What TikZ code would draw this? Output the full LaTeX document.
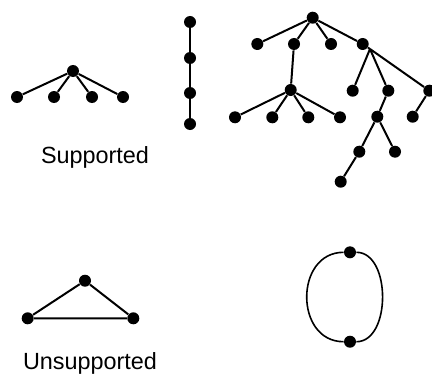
\documentclass[tikz,border=0pt]{standalone}
\usepackage{fontspec}
\setmainfont{Liberation Sans}

\begin{document}
\begin{tikzpicture}[x=0.5pt,y=-0.5pt,
  dot/.style={circle,fill=black,inner sep=0pt,minimum size=6pt},
  edge/.style={line width=1pt},
  lbl/.style={font=\fontsize{11.7}{14}\selectfont}]
  \useasboundingbox (0,0) rectangle (432,374);
  % Supported: star
  \node[dot]    (S0)        at (73,71) {};
  \node[dot]    (S1)        at (17,97) {};
  \node[dot]    (S2)        at (54,97) {};
  \node[dot]    (S3)        at (92,97) {};
  \node[dot]    (S4)        at (123,97) {};
  \foreach \i in {1,...,4} \draw[edge] (S0) -- (S\i);
  % Supported: path
  \node[dot]    (P1)        at (190,22) {};
  \node[dot]    (P2)        at (190,58) {};
  \node[dot]    (P3)        at (190,93) {};
  \node[dot]    (P4)        at (190,124) {};
  \draw[edge] (P1) -- (P2) -- (P3) -- (P4);
  \node[lbl]    (sup)       at (95,157) {Supported};
  % Supported: tree
  \node[dot]    (T0)        at (312.7,17.7) {};
  \node[dot]    (T1)        at (257.3,44) {};
  \node[dot]    (T2)        at (294,44) {};
  \node[dot]    (T3)        at (331,44) {};
  \node[dot]    (T4)        at (362.7,44) {};
  \node[dot]    (T5)        at (290.7,90) {};
  \node[dot]    (T6)        at (235,117.3) {};
  \node[dot]    (T7)        at (272.3,117.3) {};
  \node[dot]    (T8)        at (308.3,117.3) {};
  \node[dot]    (T9)        at (340,117.3) {};
  \node[dot]    (T10)       at (352.7,90.7) {};
  \node[dot]    (T11)       at (388.3,90.7) {};
  \node[dot]    (T12)       at (429.3,90.7) {};
  \node[dot]    (T13)       at (377.3,116.7) {};
  \node[dot]    (T14)       at (412.7,116.7) {};
  \node[dot]    (T15)       at (359.3,151.7) {};
  \node[dot]    (T16)       at (395,151.7) {};
  \node[dot]    (T17)       at (340.7,181.7) {};
  \coordinate   (hub)       at (370,49);
  \foreach \i in {1,...,4} \draw[edge] (T0) -- (T\i);
  \draw[edge] (T2) -- (T5);
  \foreach \i in {6,...,9} \draw[edge] (T5) -- (T\i);
  \draw[edge] (T4) -- (hub);
  \foreach \i in {10,11,12} \draw[edge] (hub) -- (T\i);
  \draw[edge] (T11) -- (T13); \draw[edge] (T12) -- (T14);
  \draw[edge] (T13) -- (T15); \draw[edge] (T13) -- (T16);
  \draw[edge] (T15) -- (T17);
  % Unsupported: triangle
  \node[dot]    (A)         at (85,280.7) {};
  \node[dot]    (B)         at (27.7,318.3) {};
  \node[dot]    (C)         at (133.3,318.3) {};
  \draw[edge] (A) -- (B) -- (C) -- (A);
  \node[lbl]    (unsup)     at (90,363.3) {Unsupported};
  % Unsupported: loop
  \node[dot]    (L1)        at (350,252.3) {};
  \node[dot]    (L2)        at (350,341.7) {};
  \draw[line width=0.8pt] (L1) .. controls (294.4,252.3) and (294.4,341.7) .. (L2);
  \draw[line width=0.8pt] (L1) .. controls (391.3,252.3) and (391.3,341.7) .. (L2);
\end{tikzpicture}
\end{document}
